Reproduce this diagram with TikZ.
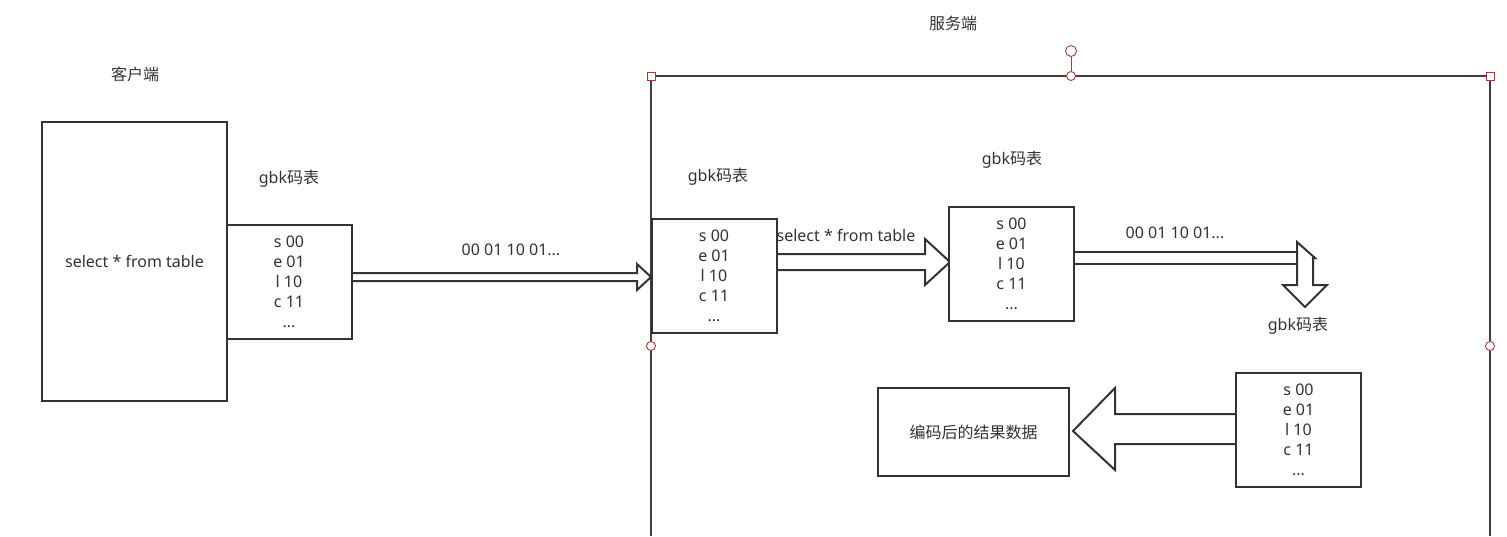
\documentclass[tikz,border=0pt]{standalone}
\usepackage{fontspec}
\setmainfont{Noto Sans}
\newfontfamily\cjk{Noto Sans CJK SC}
\usetikzlibrary{calc}
\definecolor{InkGray}   {HTML}{333333}
\definecolor{FrameBrown}{HTML}{4A3B3B}
\definecolor{HandleRed} {HTML}{A03C3C}
\tikzset{
  plainbox/.style={rectangle,draw=InkGray,line width=2pt,fill=white,
                   inner sep=0pt,align=center,
                   font=\fontsize{16}{20}\selectfont\color{InkGray}},
  codetab/.style={plainbox,minimum width=125pt,minimum height=114pt},
  lbl/.style={inner sep=0pt,font=\fontsize{16}{18}\selectfont\color{InkGray}},
  hollow/.style={draw=InkGray,line width=2pt,line join=miter},
  sqhandle/.style={rectangle,draw=HandleRed,fill=white,line width=0.9pt,
                   minimum size=8pt,inner sep=0pt},
  rdhandle/.style={circle,draw=HandleRed,fill=white,line width=0.9pt,
                   minimum size=9pt,inner sep=0pt},
}

\begin{document}
\begin{tikzpicture}[x=1pt,y=-1pt]
  \useasboundingbox (0,0) rectangle (1507,536);

  % server frame
  \draw[FrameBrown,line width=2.6pt] (651,536) |- (1490,76) -- (1490,536);

  \node[lbl] (cliLbl) at (135,74)  {{\cjk 客户端}};
  \node[lbl] (srvLbl) at (953,23)  {{\cjk 服务端}};

  \coordinate (tipA) at (651,277);
  \coordinate (tipB) at (950,262);
  \coordinate (tipR) at (1073,431);
  \coordinate (dTop) at (1297,242);

  % client table -> server
  \draw[hollow] (351,273) -- ($(tipA)+(-14,-4)$) -- ($(tipA)+(-14,-13)$)
    -- (tipA) -- ($(tipA)+(-14,13)$) -- ($(tipA)+(-14,4)$) -- (351,281);

  % srvA -> srvB
  \draw[hollow] (777,254) -- ($(tipB)+(-25,-8)$) -- ($(tipB)+(-25,-23)$)
    -- (tipB) -- ($(tipB)+(-25,23)$) -- ($(tipB)+(-25,8)$) -- (777,270);

  % srvB -> down arrow
  \draw[hollow] (1075,252) -- (dTop |- 0,252) (1075,264) -- (dTop |- 0,264);
  \draw[hollow] (dTop) -- ++(0,43) -- ++(-14,0) -- ++(22,22) -- ++(22,-22)
    -- ++(-14,0) -- ++(0,-27) -- ++(2,0) -- cycle;

  % srvC -> result
  \draw[hollow] (1236,414) -- ($(tipR)+(42,-17)$) -- ($(tipR)+(42,-43)$)
    -- (tipR) -- ($(tipR)+(42,39)$) -- ($(tipR)+(42,13)$) -- (1236,444);

  % boxes
  \node[plainbox,minimum width=185pt,minimum height=279pt]
    (client) at (134.5,261.5) {select * from table};
  \node[codetab] (cliTab) at (289,281.5) {s 00\\e 01\\l 10\\c 11\\...};
  \node[codetab] (srvA) at (714,276)  {s 00\\e 01\\l 10\\c 11\\...};
  \node[codetab] (srvB) at (1011.5,264) {s 00\\e 01\\l 10\\c 11\\...};
  \node[codetab] (srvC) at (1298.5,429.5) {s 00\\e 01\\l 10\\c 11\\...};
  \node[plainbox,minimum width=191pt,minimum height=88pt]
    (result) at (973.5,432) {{\cjk 编码后的结果数据}};

  \node[lbl] (cliTabLbl) at (289,179)  {gbk{\cjk 码表}};
  \node[lbl] (srvALbl)   at (718,177)  {gbk{\cjk 码表}};
  \node[lbl] (srvBLbl)   at (1012,160) {gbk{\cjk 码表}};
  \node[lbl] (downLbl)   at (1298,326) {gbk{\cjk 码表}};

  \node[lbl] (bitsA) at (511,250)  {00 01 10 01...};
  \node[lbl] (query) at (846,235)  {select * from table};
  \node[lbl] (bitsB) at (1175,233) {00 01 10 01...};

  % selection handles
  \node[rdhandle,minimum size=11pt] (rotH) at (1071,51) {};
  \node[rdhandle] (tmH) at (1071,76) {};
  \draw[HandleRed,line width=0.9pt] (rotH.south) -- (tmH.north);
  \node[sqhandle] (tlH) at (651,76) {};
  \node[sqhandle] (trH) at (1490,76) {};
  \node[rdhandle] (lmH) at (651,346) {};
  \node[rdhandle] (rmH) at (1490,346) {};
\end{tikzpicture}
\end{document}
